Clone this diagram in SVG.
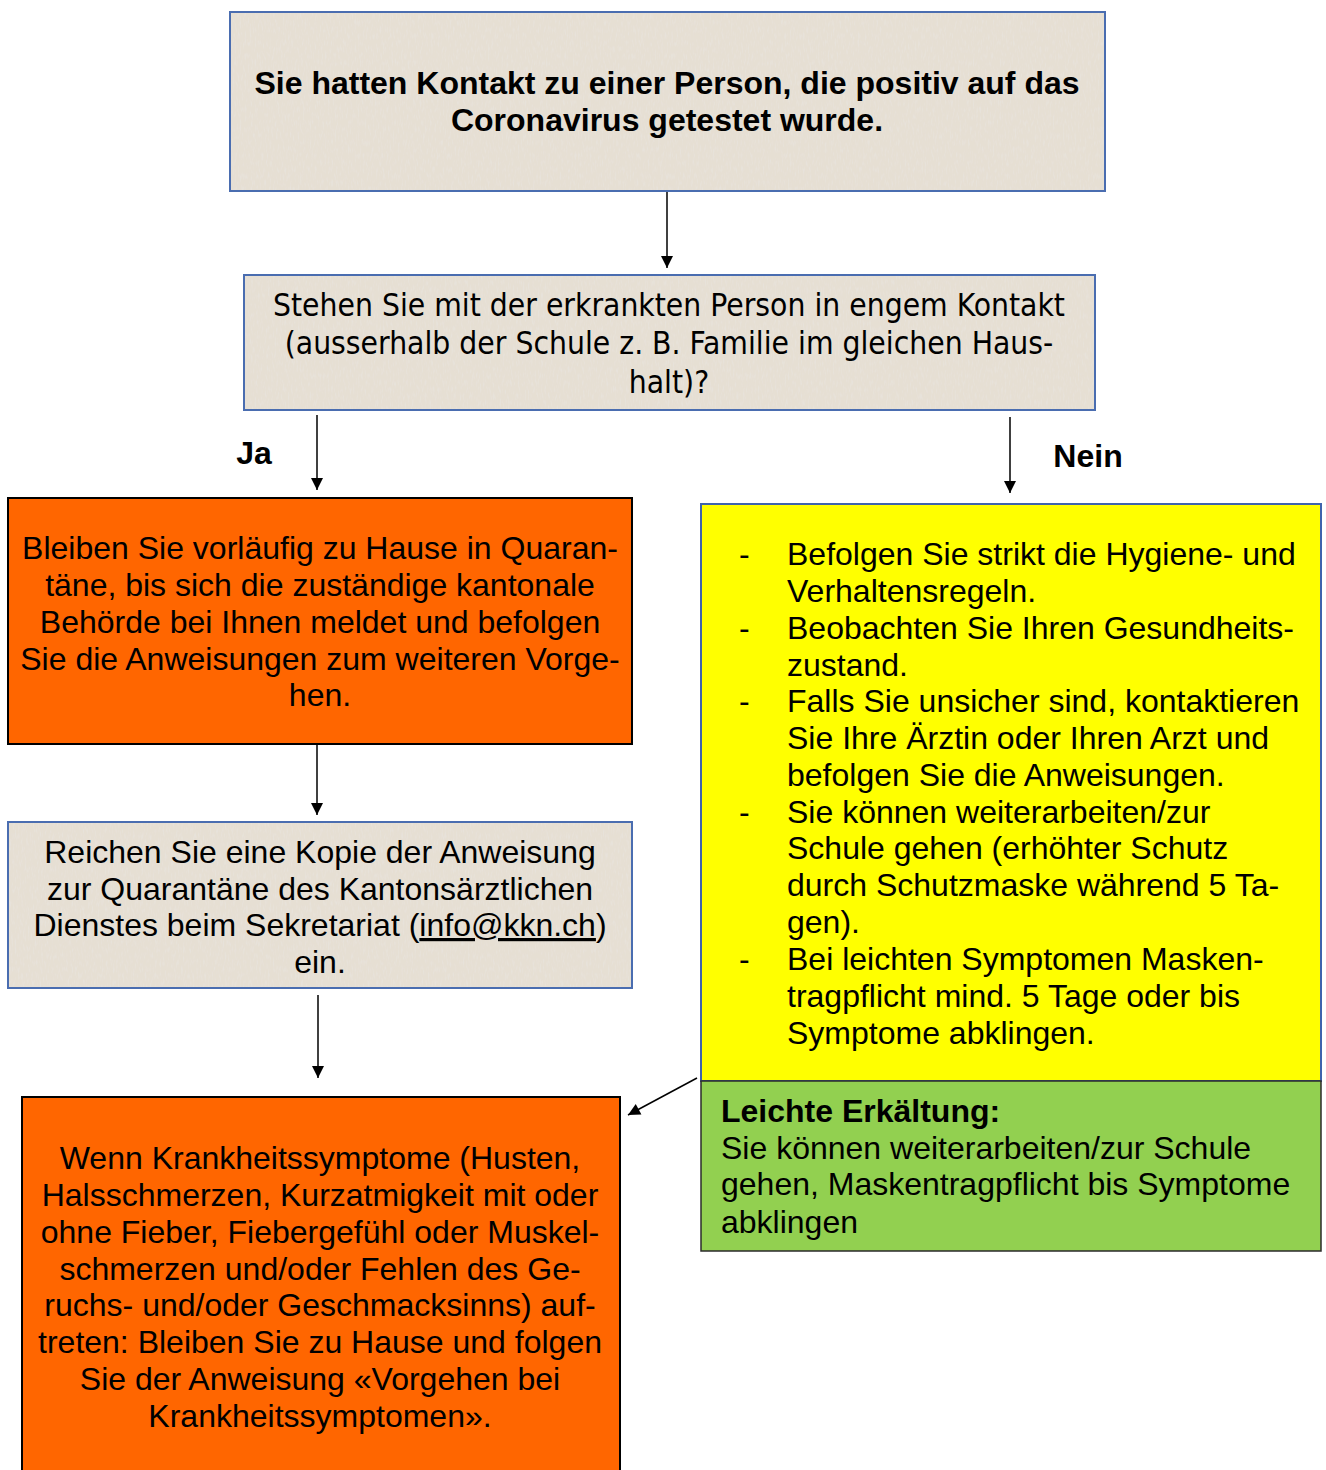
<svg xmlns="http://www.w3.org/2000/svg" width="1326" height="1470" viewBox="0 0 1326 1470">
<defs>
<marker id="ah" viewBox="0 0 12 12" refX="12" refY="6" markerWidth="13" markerHeight="12" markerUnits="userSpaceOnUse" orient="auto">
<path d="M0,0 L12,6 L0,12 z" fill="#000"/>
</marker>
<filter id="tex" x="0" y="0" width="1" height="1">
<feTurbulence type="fractalNoise" baseFrequency="0.6 0.15" numOctaves="2" seed="3" result="n"/>
<feColorMatrix in="n" type="matrix" values="0 0 0 0 0.80  0 0 0 0 0.76  0 0 0 0 0.70  0 0 0 -3 1.6" result="c"/>
<feComposite in="c" in2="SourceGraphic" operator="in" result="m"/>
<feMerge><feMergeNode in="SourceGraphic"/><feMergeNode in="m"/></feMerge>
</filter>
</defs>
<style>
.bfill{fill:#e6dfd3;stroke:none}
.bline{fill:none;stroke:#4a6db0;stroke-width:2}
.orange{fill:#ff6600;stroke:#000;stroke-width:2}
.yellow{fill:#ffff00;stroke:#3f63ad;stroke-width:2}
.green{fill:#92d050;stroke:#2b2b2b;stroke-width:1.5}
text{font-family:"Liberation Sans",Arial,sans-serif;font-size:32px;fill:#000}
.c{text-anchor:middle}
.b{font-weight:bold}
.t{font-family:"DejaVu Sans Condensed","DejaVu Sans",sans-serif;font-size:31.5px}
.conn line{stroke:#000;stroke-width:1.5;marker-end:url(#ah)}
</style>
<rect width="1326" height="1470" fill="#fff"/>

<g id="n1">
<rect class="bfill" x="230" y="12" width="875" height="179" filter="url(#tex)"/>
<rect class="bline" x="230" y="12" width="875" height="179"/>
<text class="c b" x="667" y="94">Sie hatten Kontakt zu einer Person, die positiv auf das</text>
<text class="c b" x="667" y="131">Coronavirus getestet wurde.</text>
</g>

<g id="n2">
<rect class="bfill" x="244" y="275" width="851" height="135" filter="url(#tex)"/>
<rect class="bline" x="244" y="275" width="851" height="135"/>
<text class="c t" x="669" y="316">Stehen Sie mit der erkrankten Person in engem Kontakt</text>
<text class="c t" x="669" y="354">(ausserhalb der Schule z. B. Familie im gleichen Haus-</text>
<text class="c t" x="669" y="393">halt)?</text>
</g>

<g id="lbl">
<text class="c b" x="254" y="464">Ja</text>
<text class="c b" x="1088" y="467">Nein</text>
</g>

<g id="n3">
<rect class="orange" x="8" y="498" width="624" height="246"/>
<text class="c" x="320" y="559">Bleiben Sie vorläufig zu Hause in Quaran-</text>
<text class="c" x="320" y="596">täne, bis sich die zuständige kantonale</text>
<text class="c" x="320" y="633">Behörde bei Ihnen meldet und befolgen</text>
<text class="c" x="320" y="670">Sie die Anweisungen zum weiteren Vorge-</text>
<text class="c" x="320" y="706">hen.</text>
</g>

<g id="n4">
<rect class="bfill" x="8" y="822" width="624" height="166" filter="url(#tex)"/>
<rect class="bline" x="8" y="822" width="624" height="166"/>
<text class="c" x="320" y="863">Reichen Sie eine Kopie der Anweisung</text>
<text class="c" x="320" y="900">zur Quarantäne des Kantonsärztlichen</text>
<text class="c" x="320" y="936">Dienstes beim Sekretariat (<tspan text-decoration="underline">info@kkn.ch</tspan>)</text>
<text class="c" x="320" y="973">ein.</text>
</g>

<g id="n5">
<rect class="orange" x="22" y="1097" width="598" height="385"/>
<text class="c" x="320" y="1169">Wenn Krankheitssymptome (Husten,</text>
<text class="c" x="320" y="1206">Halsschmerzen, Kurzatmigkeit mit oder</text>
<text class="c" x="320" y="1243">ohne Fieber, Fiebergefühl oder Muskel-</text>
<text class="c" x="320" y="1280">schmerzen und/oder Fehlen des Ge-</text>
<text class="c" x="320" y="1316">ruchs- und/oder Geschmacksinns) auf-</text>
<text class="c" x="320" y="1353">treten: Bleiben Sie zu Hause und folgen</text>
<text class="c" x="320" y="1390">Sie der Anweisung «Vorgehen bei</text>
<text class="c" x="320" y="1427">Krankheitssymptomen».</text>
</g>

<g id="n6">
<rect class="yellow" x="701" y="504" width="620" height="577"/>
<text x="739" y="565">-</text><text x="787" y="565">Befolgen Sie strikt die Hygiene- und</text>
<text x="787" y="602">Verhaltensregeln.</text>
<text x="739" y="639">-</text><text x="787" y="639">Beobachten Sie Ihren Gesundheits-</text>
<text x="787" y="676">zustand.</text>
<text x="739" y="712">-</text><text x="787" y="712">Falls Sie unsicher sind, kontaktieren</text>
<text x="787" y="749">Sie Ihre Ärztin oder Ihren Arzt und</text>
<text x="787" y="786">befolgen Sie die Anweisungen.</text>
<text x="739" y="823">-</text><text x="787" y="823">Sie können weiterarbeiten/zur</text>
<text x="787" y="859">Schule gehen (erhöhter Schutz</text>
<text x="787" y="896">durch Schutzmaske während 5 Ta-</text>
<text x="787" y="933">gen).</text>
<text x="739" y="970">-</text><text x="787" y="970">Bei leichten Symptomen Masken-</text>
<text x="787" y="1007">tragpflicht mind. 5 Tage oder bis</text>
<text x="787" y="1044">Symptome abklingen.</text>
</g>

<g id="n7">
<rect class="green" x="701" y="1081" width="620" height="170"/>
<text class="b" x="721" y="1122">Leichte Erkältung:</text>
<text x="721" y="1159">Sie können weiterarbeiten/zur Schule</text>
<text x="721" y="1195">gehen, Maskentragpflicht bis Symptome</text>
<text x="721" y="1233">abklingen</text>
</g>

<g class="conn" id="connectors">
<line x1="667" y1="192" x2="667" y2="268"/>
<line x1="317" y1="415" x2="317" y2="490"/>
<line x1="1010" y1="417" x2="1010" y2="493"/>
<line x1="317" y1="745" x2="317" y2="815"/>
<line x1="318" y1="995" x2="318" y2="1078"/>
<line x1="697" y1="1078" x2="628" y2="1115"/>
</g>
</svg>
